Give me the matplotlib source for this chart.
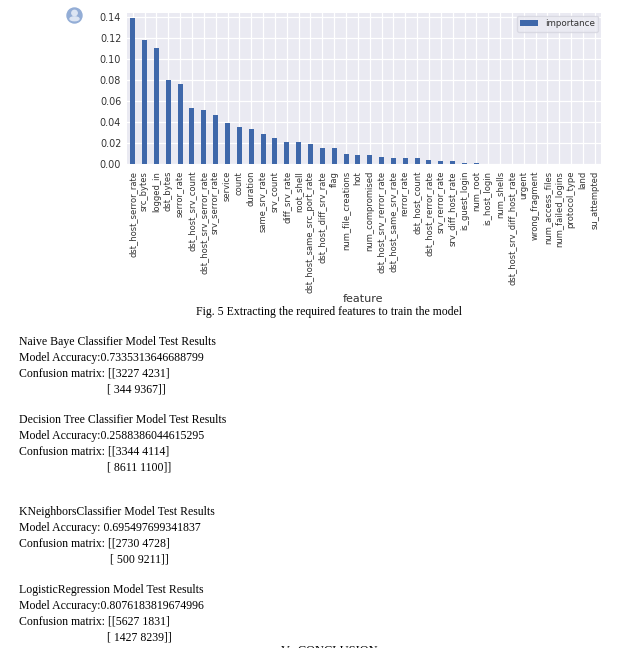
import matplotlib
matplotlib.use("Agg")
import matplotlib.pyplot as plt
from matplotlib.patches import Circle, Ellipse

features = ["dst_host_serror_rate", "src_bytes", "logged_in", "dst_bytes", "serror_rate",
            "dst_host_srv_count", "dst_host_srv_serror_rate", "srv_serror_rate", "service",
            "count", "duration", "same_srv_rate", "srv_count", "diff_srv_rate", "root_shell",
            "dst_host_same_src_port_rate", "dst_host_diff_srv_rate", "flag", "num_file_creations",
            "hot", "num_compromised", "dst_host_srv_rerror_rate", "dst_host_same_srv_rate",
            "rerror_rate", "dst_host_count", "dst_host_rerror_rate", "srv_rerror_rate",
            "srv_diff_host_rate", "is_guest_login", "num_root", "is_host_login", "num_shells",
            "dst_host_srv_diff_host_rate", "urgent", "wrong_fragment", "num_access_files",
            "num_failed_logins", "protocol_type", "land", "su_attempted"]
importance = [0.1385, 0.118, 0.110, 0.0797, 0.0758, 0.053, 0.0516, 0.0468, 0.0393, 0.0355,
              0.0335, 0.0284, 0.0245, 0.0213, 0.0213, 0.0194, 0.0152, 0.0152, 0.0097, 0.0090,
              0.0090, 0.0068, 0.0055, 0.0055, 0.0055, 0.0035, 0.0027, 0.0027, 0.0013, 0.0013,
              0, 0, 0, 0, 0, 0, 0, 0, 0, 0]
yticks = [0.00, 0.02, 0.04, 0.06, 0.08, 0.10, 0.12, 0.14]

caption = "Fig. 5 Extracting the required features to train the model"
# left column text, pixel positions from the page
page_lines = [
    (19, 342, "Naive Baye Classifier Model Test Results"),
    (19, 358, "Model Accuracy:0.7335313646688799"),
    (19, 373, "Confusion matrix: [[3227 4231]"),
    (107, 389, "[ 344 9367]]"),
    (19, 420, "Decision Tree Classifier Model Test Results"),
    (19, 436, "Model Accuracy:0.2588386044615295"),
    (19, 451, "Confusion matrix: [[3344 4114]"),
    (107, 467, "[ 8611 1100]]"),
    (19, 512, "KNeighborsClassifier Model Test Results"),
    (19, 528, "Model Accuracy: 0.695497699341837"),
    (19, 543, "Confusion matrix: [[2730 4728]"),
    (110, 559, "[ 500 9211]]"),
    (19, 590, "LogisticRegression Model Test Results"),
    (19, 606, "Model Accuracy:0.8076183819674996"),
    (19, 621, "Confusion matrix: [[5627 1831]"),
    (107, 637, "[ 1427 8239]]"),
]

W, H = 630, 648
fig = plt.figure(figsize=(W / 100, H / 100), dpi=100)
ax = fig.add_axes([126.8 / W, 1 - 164 / H, 474 / W, 151 / H])
ax.set_facecolor("#EAEAF2")
ax.bar(range(len(features)), importance, width=0.42, color="#3F68AA", label="importance", zorder=3)
ax.set_xlim(-0.5, 39.5)
ax.set_ylim(0, 0.1435)
ax.set_xticks(range(len(features)))
ax.set_xticklabels(features, rotation=90, fontsize=6.05, color="#333333")
ax.set_yticks(yticks)
ax.set_yticklabels([f"{v:.2f}" for v in yticks], fontsize=6.9, color="#333333")
ax.tick_params(length=0, pad=4)
ax.tick_params(axis="x", pad=5)
ax.grid(color="white", linewidth=0.9, zorder=0)
for s in ax.spines.values():
    s.set_visible(False)
leg = ax.legend(loc="upper right", fontsize=6.3, facecolor="#EAEAF2", edgecolor="#D5D5DF",
                labelcolor="#333333", borderaxespad=0.3)
ax.set_xlabel("feature", fontsize=8, color="#333333")
ax.xaxis.set_label_coords((363 - 126.8) / 474, -(299.5 - 164) / 151)
ax.xaxis.label.set_va("center")

# profile icon at the top left of the page
icon = fig.add_axes([0, 0, 1, 1], facecolor="none")
icon.set_xlim(0, W)
icon.set_ylim(H, 0)
icon.axis("off")
icon.add_patch(Circle((74.5, 15.5), 7.5, color="#93ADD6"))
icon.add_patch(Circle((74.5, 13), 2.7, color="#DCE5F3"))
icon.add_patch(Ellipse((74.5, 18.8), 9, 3.8, color="#DCE5F3"))

serif = "Liberation Serif"
icon.text(329, 312, caption, family=serif, fontsize=8.45, ha="center", va="center", color="black")
for x, y, line in page_lines:
    icon.text(x, y, line, family=serif, fontsize=8.45, ha="left", va="center", color="black")
icon.text(281, 651, "V.  CONCLUSION", family=serif, fontsize=8.9, ha="left", va="center",
          color="black", clip_on=True)

fig.savefig("out.png", dpi=100)
